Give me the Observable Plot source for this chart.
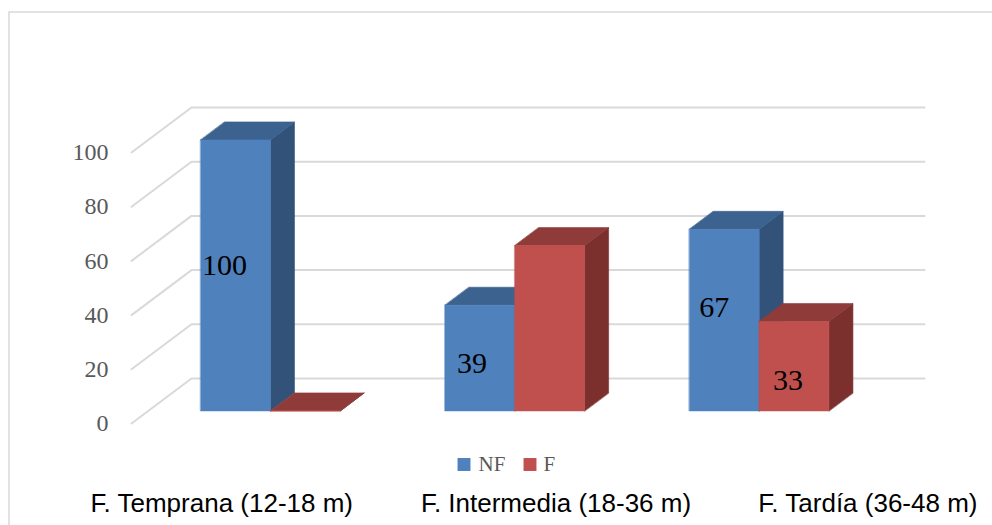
<!DOCTYPE html>
<html><head><meta charset="utf-8">
<script src="https://cdn.jsdelivr.net/npm/d3@7"></script>
<script src="https://cdn.jsdelivr.net/npm/@observablehq/plot@0.6"></script>
<style>html,body{margin:0;padding:0;background:#fff}svg{display:block}</style>
</head><body><div id="chart"></div>
<script>
// ---- data ----
const categories = ["F. Temprana (12-18 m)", "F. Intermedia (18-36 m)", "F. Tardía (36-48 m)"];
const seriesNames = ["NF", "F"];
const valuesNF = [100, 39, 67];
const valuesF = [0, 61, 33];
const labelsNF = ["100", "39", "67"];
const labelsF = ["", "", "33"];
const yTicks = [0, 20, 40, 60, 80, 100];

// ---- styles / layout ----
const colors = {
  NF: {front: "#4F81BD", top: "#3C628F", side: "#32527A"},
  F: {front: "#C0504D", top: "#8F3B39", side: "#7B302E"}
};
// manual nudges of the data labels (pixels), as placed in the original
const labelNudge = {NF: [[-11, -10], [-8, 5], [-10, -13]], F: [[0, 0], [0, 0], [-6, 14]]};

// ---- 3D projection helpers (oblique) ----
const groupSlots = 3.5;               // 2 bars + 150% gap
const xDomain = [0, groupSlots * categories.length];
const xRange = [131, 864], yRange = [423, 152];
const depthPx = [60, -45];
const kx = (xRange[1] - xRange[0]) / (xDomain[1] - xDomain[0]);
const ky = (yRange[0] - yRange[1]) / 100;
const DX = depthPx[0] / kx, DY = -depthPx[1] / ky;
const P = (x, y, d) => ({x: x + d * DX, y: y + d * DY});
const d0 = 0.28, d1 = 0.68;

const seriesValues = [valuesNF, valuesF];
const seriesLabels = [labelsNF, labelsF];

// polygons in drawing order
const polys = [];
const valueLabels = [];
let pid = 0;
categories.forEach((c, i) => {
  seriesNames.forEach((s, si) => {
    const v = seriesValues[si][i];
    const x0 = groupSlots * i + 0.75 + si, x1 = x0 + 1;
    const col = colors[s];
    const faces = [
      {fill: col.side, pts: [P(x1, 0, d0), P(x1, v, d0), P(x1, v, d1), P(x1, 0, d1)]},
      {fill: col.top, pts: [P(x0, v, d0), P(x1, v, d0), P(x1, v, d1), P(x0, v, d1)]},
      {fill: col.front, pts: [P(x0, 0, d0), P(x1, 0, d0), P(x1, v, d0), P(x0, v, d0)]}
    ];
    faces.forEach(f => {
      pid++;
      f.pts.forEach(p => polys.push({x: p.x, y: p.y, id: pid, fill: f.fill}));
    });
    const t = seriesLabels[si][i];
    if (t) {
      const c0 = P((x0 + x1) / 2, v / 2, d0);
      const [ndx, ndy] = labelNudge[s][i];
      valueLabels.push({x: c0.x, y: c0.y, text: t, ndx, ndy});
    }
  });
});

// gridlines: floor diagonal + back wall
const grid = [];
yTicks.forEach(t => {
  [P(0, t, 0), P(0, t, 1), P(xDomain[1], t, 1)].forEach(p => grid.push({x: p.x, y: p.y, t}));
});
const tickPts = yTicks.map(t => ({...P(0, t, 0), label: String(t)}));

const serif = "Liberation Serif, Cambria, serif";
const sans = "Liberation Sans, Arial, sans-serif";

const chart = Plot.plot({
  width: 992, height: 525,
  margin: 0,
  x: {domain: xDomain, range: xRange, axis: null},
  y: {domain: [0, 100], range: yRange, axis: null},
  color: {type: "identity"},
  marks: [
    Plot.frame({stroke: "#D9D9D9", strokeWidth: 1.5, insetLeft: 8.5, insetTop: 11.5, insetRight: -5, insetBottom: -5}),
    Plot.line(grid, {x: "x", y: "y", z: "t", stroke: "#D9D9D9", strokeWidth: 2}),
    Plot.line(polys, {x: "x", y: "y", z: "id", fill: "fill", stroke: "fill", strokeWidth: 0.6, curve: "linear-closed"}),
    ...valueLabels.map(l => Plot.text([l], {x: "x", y: "y", text: "text", dx: l.ndx, dy: l.ndy, fontFamily: serif, fontSize: 30, fill: "#000", lineAnchor: "middle"})),
    Plot.text(tickPts, {x: "x", y: "y", text: "label", textAnchor: "end", dx: -23, fontFamily: serif, fontSize: 24, fill: "#595959", lineAnchor: "middle"}),
    // legend
    Plot.dot([seriesNames[0]], {frameAnchor: "bottom", symbol: "square", r: 7.3, fill: colors.NF.front, dx: -32.5, dy: -61}),
    Plot.text([seriesNames[0]], {text: d => d, frameAnchor: "bottom", textAnchor: "start", dx: -18, dy: -61, lineAnchor: "middle", fontFamily: serif, fontSize: 21, fill: "#595959"}),
    Plot.dot([seriesNames[1]], {frameAnchor: "bottom", symbol: "square", r: 7.3, fill: colors.F.front, dx: 33.5, dy: -61}),
    Plot.text([seriesNames[1]], {text: d => d, frameAnchor: "bottom", textAnchor: "start", dx: 47, dy: -61, lineAnchor: "middle", fontFamily: serif, fontSize: 21, fill: "#595959"}),
    // category labels
    Plot.text([categories[0]], {text: d => d, frameAnchor: "bottom-left", textAnchor: "start", dx: 90, dy: -22, lineAnchor: "middle", fontFamily: sans, fontSize: 26, fill: "#000"}),
    Plot.text([categories[1]], {text: d => d, frameAnchor: "bottom", textAnchor: "middle", dx: 59.5, dy: -22, lineAnchor: "middle", fontFamily: sans, fontSize: 26, fill: "#000"}),
    Plot.text([categories[2]], {text: d => d, frameAnchor: "bottom-right", textAnchor: "end", dx: -15, dy: -22, lineAnchor: "middle", fontFamily: sans, fontSize: 26, fill: "#000"})
  ]
});
document.getElementById("chart").appendChild(chart);
</script>
</body></html>
